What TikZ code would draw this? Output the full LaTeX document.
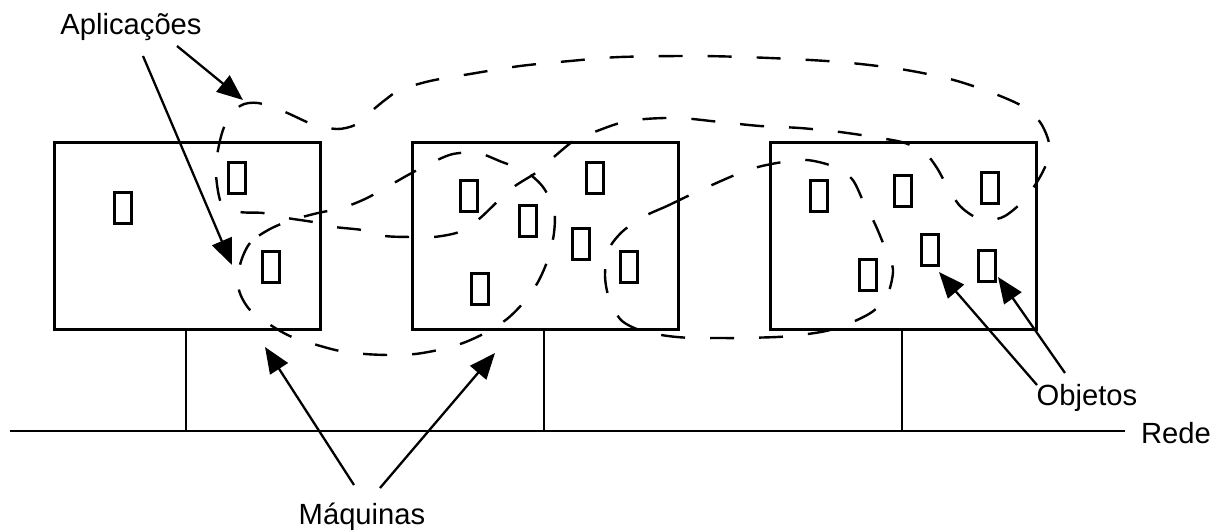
\documentclass[tikz,border=0pt]{standalone}
\usepackage{fontspec}
\setmainfont{Liberation Sans}
\usetikzlibrary{arrows.meta}
\begin{document}
\begin{tikzpicture}[x=0.5pt,y=-0.5pt,
  machine/.style={draw, line width=1.25pt, minimum width=133pt, minimum height=93.5pt, inner sep=0pt, anchor=north west},
  obj/.style={draw, line width=1.15pt, minimum width=8.5pt, minimum height=15.5pt, inner sep=0pt},
  lbl/.style={font=\fontsize{14.6pt}{17pt}\selectfont, inner sep=0pt, anchor=base},
  wire/.style={line width=1.15pt},
  app/.style={line width=1.2pt, dash pattern=on 12pt off 12.5pt},
  ptr/.style={line width=1.15pt, -{Triangle[length=13pt,width=10.5pt]}}
]
\fill[white] (0,0) rectangle (1217,531);
\useasboundingbox (0,0) rectangle (1217,531);

% machines
\node[machine] (m1) at (53,141) {};
\node[machine] (m2) at (411,141) {};
\node[machine] (m3) at (769,141) {};

% network
\coordinate (netL) at (10,431);
\coordinate (netR) at (1125,431);
\draw[wire] (netL) -- (netR);
\coordinate (s1) at (186,431);
\coordinate (s2) at (544,431);
\coordinate (s3) at (902,431);
\draw[wire] (s1 |- m1.south) -- (s1);
\draw[wire] (s2 |- m2.south) -- (s2);
\draw[wire] (s3 |- m3.south) -- (s3);

% objects
\node[obj] (o11) at (123,208) {};
\node[obj] (o12) at (237,178) {};
\node[obj] (o13) at (271,267) {};
\node[obj] (o21) at (469,196) {};
\node[obj] (o22) at (528,221) {};
\node[obj] (o23) at (595,178) {};
\node[obj] (o24) at (581,244) {};
\node[obj] (o25) at (629,267) {};
\node[obj] (o26) at (480,289) {};
\node[obj] (o31) at (819,196) {};
\node[obj] (o32) at (903,191) {};
\node[obj] (o33) at (990,188) {};
\node[obj] (o34) at (930,250) {};
\node[obj] (o35) at (987,266) {};
\node[obj] (o36) at (868,275) {};

% applications (dashed)
\draw[app] plot[smooth cycle] coordinates {
 (216,175) (218,150) (225,125) (240,106) (258,103) (285,112) (312,124) (337,129)
 (355,125) (368,114) (385,100) (400,90) (430,81) (470,74) (520,66) (570,61)
 (620,57) (700,56) (770,58) (840,62) (900,69) (950,79) (990,92) (1022,106)
 (1040,122) (1049,143) (1047,162) (1037,182) (1022,202) (1005,216) (990,220)
 (975,217) (960,206) (948,188) (937,168) (925,153) (905,143) (880,138) (840,132)
 (800,128) (760,126) (720,122) (680,118) (645,119) (620,123) (597,131) (575,140)
 (555,156) (537,172) (515,186) (498,201) (479,219) (459,232) (434,237) (412,237)
 (385,236) (362,230) (335,227) (313,222) (287,218) (263,213) (240,212) (222,205)};
\draw[app] plot[smooth cycle] coordinates {
 (270,229) (250,243) (240,265) (239,290) (250,310) (272,326) (292,337) (317,345)
 (340,351) (365,354) (390,355) (415,354) (438,350) (463,343) (485,333) (507,319)
 (524,302) (538,282) (548,259) (554,233) (554,210) (543,187) (525,171) (502,162)
 (478,153) (453,154) (431,163) (408,175) (387,187) (365,199) (342,208) (318,213)
 (292,220)};
\draw[app] plot[smooth cycle] coordinates {
 (645,216) (667,206) (690,195) (712,185) (735,175) (758,167) (783,162) (807,160)
 (832,166) (852,179) (864,203) (875,224) (885,248) (893,270) (887,296) (872,312)
 (848,324) (826,331) (800,335) (777,337) (740,338) (717,338) (692,338) (668,336)
 (642,331) (621,320) (609,298) (605,275) (609,249) (623,231)};

% labels
\node[lbl] (apl) at (131,34) {Aplicações};
\node[lbl] (maq) at (362,524) {Máquinas};
\node[lbl] (objl) at (1087,405) {Objetos};
\node[lbl] (rede) at (1176,443) {Rede};

% arrow ends
\coordinate (a1s) at (177,46);   \coordinate (a1t) at (243,100);
\coordinate (a2s) at (143,56);   \coordinate (a2t) at (232,265);
\coordinate (q1s) at (354,485);  \coordinate (q1t) at (265,347);
\coordinate (q2s) at (380,488);  \coordinate (q2t) at (495,353);
\coordinate (b1s) at (1037,385); \coordinate (b1t) at (939,272);
\coordinate (b2s) at (1065,373); \coordinate (b2t) at (998,277);

\draw[ptr] (a1s) -- (a1t);
\draw[ptr] (a2s) -- (a2t);
\draw[ptr] (q1s) -- (q1t);
\draw[ptr] (q2s) -- (q2t);
\draw[ptr] (b1s) -- (b1t);
\draw[ptr] (b2s) -- (b2t);
\end{tikzpicture}
\end{document}
